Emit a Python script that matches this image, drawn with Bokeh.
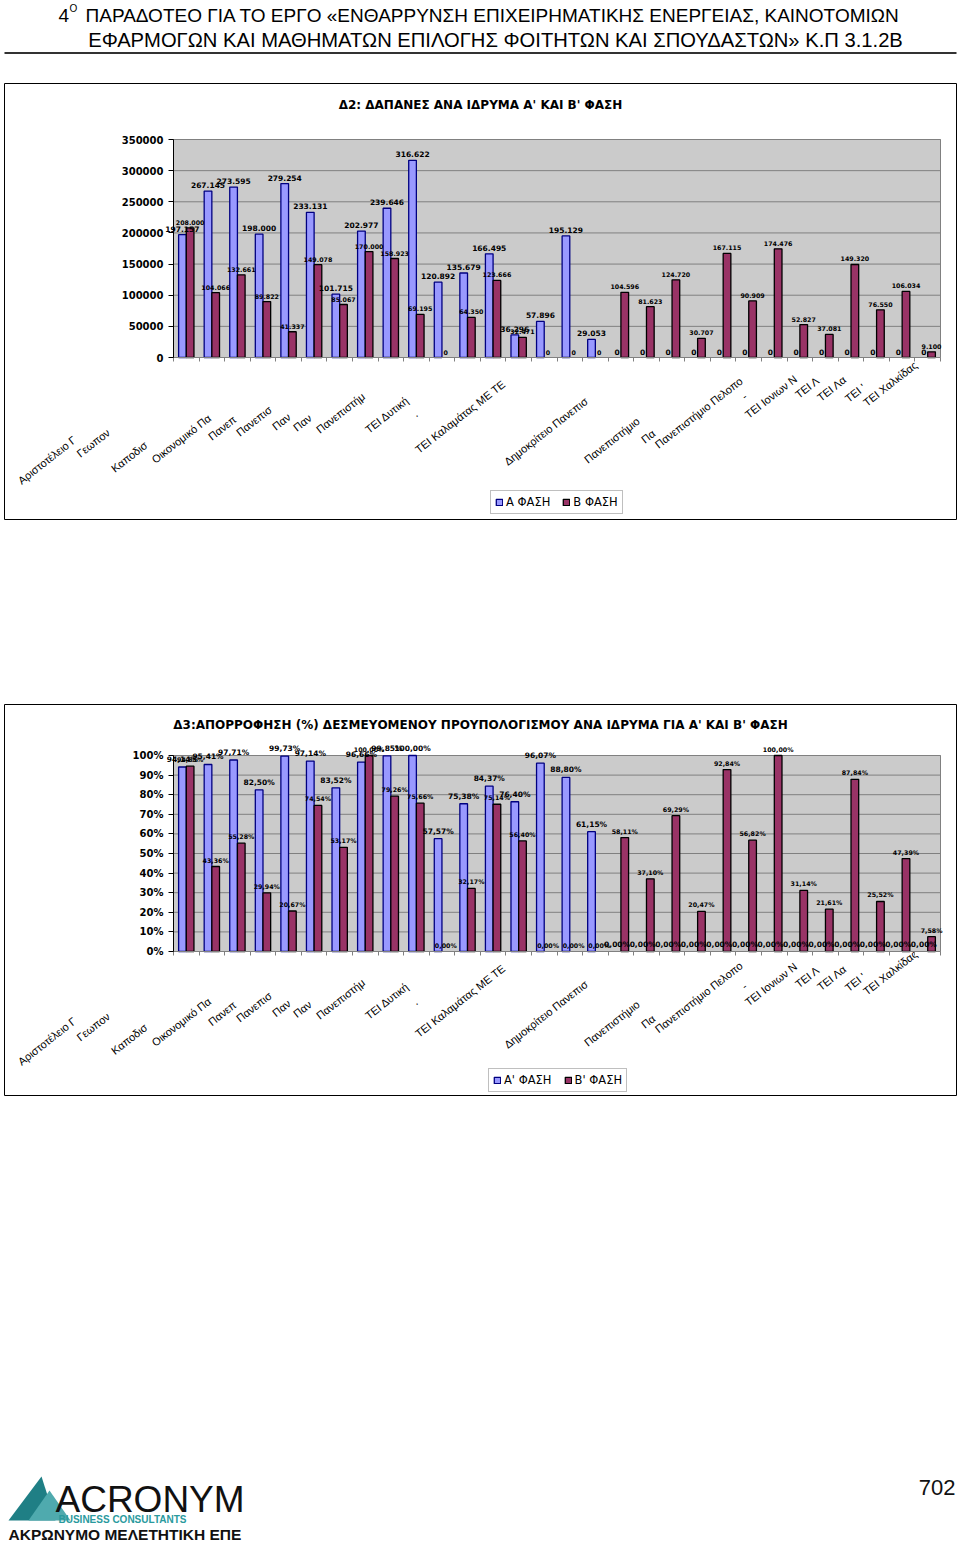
from bokeh.plotting import figure
from bokeh.models import (ColumnDataSource, LabelSet, Range1d, FixedTicker, Legend, LegendItem,
                          PrintfTickFormatter, BasicTickFormatter, Spacer, LinearAxis)
from bokeh.layouts import column
from bokeh.embed import file_html
from bokeh.resources import INLINE
from bokeh.core.properties import value

FONT = "Liberation Sans"
CFONT = "DejaVu Sans"

# ---------------- data ----------------
n_inst = 30
cost_phase_a = [197157, 267145, 273595, 198000, 279254, 233131, 101715, 202977, 239646, 316622,
                120892, 135679, 166495, 36296, 57896, 195129, 29053, 0, 0, 0,
                0, 0, 0, 0, 0, 0, 0, 0, 0, 0]
cost_phase_b = [208000, 104066, 132661, 89822, 41337, 149078, 85067, 170000, 158923, 69195,
                0, 64350, 123666, 32471, 0, 0, 0, 104596, 81623, 124720,
                30707, 167115, 90909, 174476, 52827, 37081, 149320, 76550, 106034, 9100]
absorb_phase_a = [94.14, 95.41, 97.71, 82.50, 99.73, 97.14, 83.52, 96.66, 99.85, 100.00,
                  57.57, 75.38, 84.37, 76.40, 96.07, 88.80, 61.15, 0.00, 0.00, 0.00,
                  0.00, 0.00, 0.00, 0.00, 0.00, 0.00, 0.00, 0.00, 0.00, 0.00]
absorb_phase_b = [94.55, 43.36, 55.28, 29.94, 20.67, 74.54, 53.17, 100.00, 79.26, 75.66,
                  0.00, 32.17, 75.14, 56.40, 0.00, 0.00, 0.00, 58.11, 37.10, 69.29,
                  20.47, 92.84, 56.82, 100.00, 31.14, 21.61, 87.84, 25.52, 47.39, 7.58]

# category labels as they appear (clipped) on the page
tick_labels = ["Αριστοτέλειο Γ", "Γεωπον", "Καποδισ", "Οικονομικό Πα", "Πανεπ", "Πανεπισ", "Παν", "Παν",
               "Πανεπιστήμ", "ΤΕΙ Δυτική", ".", "ΤΕΙ Καλαμάτας ΜΕ ΤΕ", "Δημοκρίτειο Πανεπισ",
               "Πανεπιστήμιο", "Πα", "Πανεπιστήμιο Πελοπο", "-", "ΤΕΙ Ιονιων Ν", "ΤΕΙ Λ", "ΤΕΙ Λα",
               "ΤΕΙ '", "ΤΕΙ Χαλκίδας"]

legend_cost = ["Α ΦΑΣΗ", "Β ΦΑΣΗ"]
legend_absorb = ["Α' ΦΑΣΗ", "Β' ΦΑΣΗ"]
title_cost = "Δ2: ΔΑΠΑΝΕΣ ΑΝΑ ΙΔΡΥΜΑ Α' ΚΑΙ Β' ΦΑΣΗ"
title_absorb = "Δ3:ΑΠΟΡΡΟΦΗΣΗ (%) ΔΕΣΜΕΥΟΜΕΝΟΥ ΠΡΟΥΠΟΛΟΓΙΣΜΟΥ ΑΝΑ ΙΔΡΥΜΑ ΓΙΑ Α' ΚΑΙ Β' ΦΑΣΗ"
header_line1 = "ΠΑΡΑΔΟΤΕΟ ΓΙΑ ΤΟ ΕΡΓΟ «ΕΝΘΑΡΡΥΝΣΗ ΕΠΙΧΕΙΡΗΜΑΤΙΚΗΣ ΕΝΕΡΓΕΙΑΣ, ΚΑΙΝΟΤΟΜΙΩΝ"
header_line2 = "ΕΦΑΡΜΟΓΩΝ ΚΑΙ ΜΑΘΗΜΑΤΩΝ ΕΠΙΛΟΓΗΣ ΦΟΙΤΗΤΩΝ ΚΑΙ ΣΠΟΥΔΑΣΤΩΝ» Κ.Π 3.1.2Β"

# ---------------- layout (pixels) ----------------
# start of each rotated label in category units, and its drop below the axis in px
tick_label_x = [-5.39, -3.09, -1.74, -0.16, 2.05, 3.15, 4.56, 5.38, 6.28, 8.19, 9.99, 10.15,
                13.63, 16.76, 18.99, 19.53, 22.86, 23.05, 25.01, 25.87, 26.96, 27.67]
tick_label_drop = [129, 102, 117, 108, 85, 81, 75, 76, 78, 78, 60, 98,
                   110, 108, 88, 93, 43, 63, 43, 46, 47, 51]

PAGE_W = 960
BOX_L, BOX_R = 4, 956
PLOT_L, PLOT_R = 173, 940
BAR_OFF = 0.15
BAR_W = 0.3


def fmt_thousands(v):
    return f"{v:,}".replace(",", ".")


def fmt_pct(v):
    return f"{v:.2f}%".replace(".", ",")


def bar_chart(title, a_vals, b_vals, a_txt, b_txt, y_end, y_step, yfmt,
              box_top, box_bot, plot_top, plot_bot, title_py, leg_names, leg_box, drop_scale):
    cats = list(range(1, n_inst + 1))
    sx = (PLOT_R - PLOT_L) / n_inst
    sy = (plot_bot - plot_top) / y_end
    x0 = 0.5 - (PLOT_L - BOX_L) / sx
    x1 = n_inst + 0.5 + (BOX_R - PLOT_R) / sx
    y0 = -(box_bot - plot_bot) / sy
    y1 = y_end + (plot_top - box_top) / sy

    def px_x(px):
        return 0.5 + (px - PLOT_L) / sx

    def px_y(py):
        return (plot_bot - py) / sy

    p = figure(width=PAGE_W, height=box_bot - box_top, output_backend="svg", toolbar_location=None,
               x_range=Range1d(x0, x1), y_range=Range1d(y0, y1),
               x_axis_location=None, y_axis_location=None,
               min_border_left=BOX_L, min_border_right=PAGE_W - BOX_R,
               min_border_top=0, min_border_bottom=0)
    p.grid.visible = False
    p.background_fill_color = "white"
    p.border_fill_color = "white"
    p.outline_line_color = "#000000"
    p.outline_line_width = 1

    yticks = list(range(0, y_end + 1, y_step))
    # plot area and gridlines
    p.quad(left=[0.5], right=[n_inst + 0.5], bottom=[0], top=[y_end],
           fill_color="#CBCBCB", line_color="#808080", line_width=1)
    gy = [t for t in yticks if t > 0]
    p.segment(x0=[0.5] * len(gy), x1=[n_inst + 0.5] * len(gy), y0=gy, y1=gy,
              line_color="#808080", line_width=1)

    yax = LinearAxis(fixed_location=0.5, bounds=(0, y_end), ticker=FixedTicker(ticks=yticks),
                     formatter=yfmt)
    yax.major_label_text_font = CFONT
    yax.major_label_text_font_style = "bold"
    yax.major_label_text_font_size = "10px"
    yax.major_label_text_color = "#000000"
    yax.axis_line_color = "#000000"
    yax.major_tick_line_color = "#000000"
    yax.major_tick_out = 5
    yax.major_tick_in = 0
    yax.minor_tick_line_color = None
    yax.major_label_standoff = 5
    p.add_layout(yax, "left")

    xticks = [i + 0.5 for i in range(0, n_inst + 1)]
    xax = LinearAxis(fixed_location=0, bounds=(0.5, n_inst + 0.5), ticker=FixedTicker(ticks=xticks))
    xax.major_label_overrides = {t: "" for t in xticks}
    xax.axis_line_color = "#808080"
    xax.major_tick_line_color = "#808080"
    xax.major_tick_out = 4
    xax.major_tick_in = 0
    xax.minor_tick_line_color = None
    p.add_layout(xax, "below")

    sa = ColumnDataSource(dict(x=[c - BAR_OFF for c, v in zip(cats, a_vals) if v > 0],
                               top=[v for v in a_vals if v > 0]))
    sb = ColumnDataSource(dict(x=[c + BAR_OFF for c, v in zip(cats, b_vals) if v > 0],
                               top=[v for v in b_vals if v > 0]))
    ra = p.vbar(x="x", top="top", width=BAR_W, source=sa, fill_color="#9999FF",
                line_color="#000080", line_width=1.3)
    rb = p.vbar(x="x", top="top", width=BAR_W, source=sb, fill_color="#993366",
                line_color="#000000", line_width=1.3)

    la = ColumnDataSource(dict(x=[c - BAR_OFF for c in cats], y=a_vals, t=a_txt))
    lb = ColumnDataSource(dict(x=[c + BAR_OFF for c in cats], y=b_vals, t=b_txt))
    p.add_layout(LabelSet(x="x", y="y", text="t", source=la, text_align="center",
                          text_baseline="bottom", y_offset=3, text_font=value(CFONT),
                          text_font_style="bold", text_font_size="7.5px", text_color="#000000"))
    p.add_layout(LabelSet(x="x", y="y", text="t", source=lb, text_align="center",
                          text_baseline="bottom", y_offset=3, text_font=value(CFONT),
                          text_font_style="bold", text_font_size="6.3px", text_color="#000000"))

    # rotated, clipped category labels
    p.text(x=tick_label_x, y=[-d * drop_scale / sy for d in tick_label_drop], text=tick_labels,
           angle=38, angle_units="deg", text_align="left", text_baseline="bottom",
           text_font=value(FONT), text_font_size="11px", text_color="#000000")

    # chart title
    p.text(x=[px_x((BOX_L + BOX_R) / 2)], y=[px_y(title_py)], text=[title], text_align="center",
           text_baseline="middle", text_font=value(CFONT), text_font_style="bold",
           text_font_size="12px", text_color="#000000")

    lx, lbottom = leg_box
    leg = Legend(items=[LegendItem(label=leg_names[0], renderers=[ra]),
                        LegendItem(label=leg_names[1], renderers=[rb])],
                 location=(lx - BOX_L, box_bot - lbottom), orientation="horizontal",
                 padding=4, spacing=12, margin=0,
                 glyph_width=8, glyph_height=8, label_standoff=3, label_height=10, label_width=10,
                 label_text_font=CFONT, label_text_font_size="11.5px", label_text_color="#000000",
                 border_line_color="#808080", background_fill_color="white", background_fill_alpha=1)
    p.add_layout(leg)
    return p


def page_band(top, bot):
    f = figure(width=PAGE_W, height=bot - top, x_range=Range1d(BOX_L, BOX_R), y_range=Range1d(bot, top),
               output_backend="svg", toolbar_location=None,
               min_border_left=BOX_L, min_border_right=PAGE_W - BOX_R, min_border_top=0, min_border_bottom=0,
               x_axis_location=None, y_axis_location=None)
    f.outline_line_color = None
    f.grid.visible = False
    f.background_fill_color = "white"
    f.border_fill_color = "white"
    return f


# ---------------- header ----------------
hdr = page_band(0, 83)
hdr.text(x=[58], y=[15], text=["4"], text_font=value(FONT), text_font_size="19px",
         text_baseline="middle", text_align="left", text_color="#000000")
hdr.text(x=[69], y=[8], text=["Ο"], text_font=value(FONT), text_font_size="10px",
         text_baseline="middle", text_align="left", text_color="#000000")
hdr.text(x=[85], y=[15], text=[header_line1], text_font=value(FONT), text_font_size="19px",
         text_baseline="middle", text_align="left", text_color="#000000")
hdr.text(x=[495], y=[39], text=[header_line2], text_font=value(FONT), text_font_size="20.2px",
         text_baseline="middle", text_align="center", text_color="#000000")
hdr.line(x=[0, 960], y=[52.5, 52.5], line_color="#333333", line_width=2)

# ---------------- charts ----------------
p1 = bar_chart(title_cost, cost_phase_a, cost_phase_b,
               [fmt_thousands(v) for v in cost_phase_a], [fmt_thousands(v) for v in cost_phase_b],
               350000, 50000, BasicTickFormatter(use_scientific=False),
               83, 520, 139, 357, 104, legend_cost, (490, 514), 1.0)

p2 = bar_chart(title_absorb, absorb_phase_a, absorb_phase_b,
               [fmt_pct(v) for v in absorb_phase_a], [fmt_pct(v) for v in absorb_phase_b],
               100, 10, PrintfTickFormatter(format="%d%%"),
               704, 1096, 755, 951, 724, legend_absorb, (488, 1092), 0.9)

# ---------------- footer ----------------
ft = page_band(1096, 1544)
ft.patches(xs=[[8, 41, 55], [28, 49, 70]], ys=[[1520, 1476, 1520], [1520, 1490, 1520]],
           fill_color=["#1F7F85", "#4FAAAE"], line_color=None)
ft.text(x=[55], y=[1499], text=["ACRONYM"], text_font=value(FONT), text_font_size="37px",
        text_baseline="middle", text_align="left", text_color="#111111")
ft.text(x=[58], y=[1519], text=["BUSINESS CONSULTANTS"], text_font=value(FONT), text_font_size="10px",
        text_font_style="bold", text_baseline="middle", text_align="left", text_color="#2A9A9E")
ft.text(x=[8], y=[1534], text=["ΑΚΡΩΝΥΜΟ ΜΕΛΕΤΗΤΙΚΗ ΕΠΕ"], text_font=value(FONT), text_font_size="15.5px",
        text_font_style="bold", text_baseline="middle", text_align="left", text_color="#111111")
ft.text(x=[955], y=[1487], text=["702"], text_font=value(FONT), text_font_size="22px",
        text_baseline="middle", text_align="right", text_color="#111111")

page = column(hdr, p1, Spacer(width=PAGE_W, height=184), p2, ft, spacing=0)

open("out.html", "w").write(file_html(page, INLINE))
